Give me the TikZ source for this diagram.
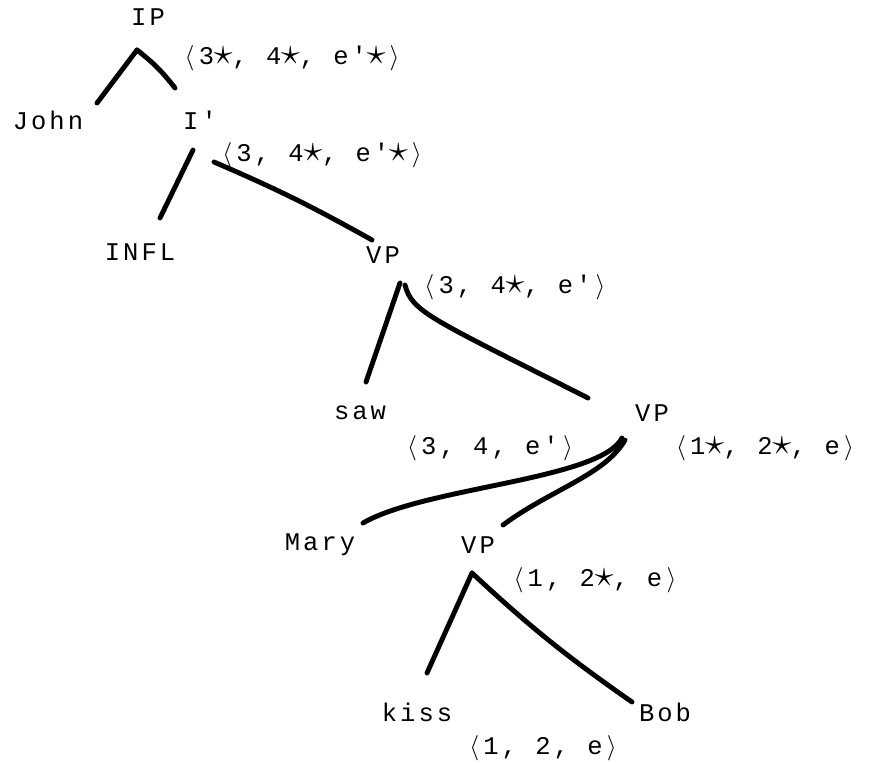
\documentclass[tikz,border=0pt]{standalone}
\usepackage{fontspec}
\setmonofont{Liberation Mono}[LetterSpace=12]
\newcommand{\lan}{\makebox[0.72em]{$\langle$}}
\newcommand{\ran}{\makebox[0.72em]{$\rangle$}}
\newcommand{\st}{\makebox[0.72em]{\scalebox{1.5}{$\star$}}}
\begin{document}
\begin{tikzpicture}[x=0.02cm,y=-0.02cm,
  every node/.style={font=\ttfamily\fontsize{14.5}{16}\selectfont, inner sep=0pt},
  edge/.style={line width=2.8pt, line cap=round}]
\useasboundingbox (0,0) rectangle (892,762);
% nodes
\node (IP)   at (148,17)  {IP};
\node (John) at (48,120)  {John};
\node (Ib)   at (200,120) {I'};
\node (INFL) at (140,252) {INFL};
\node (VPa)  at (383,255) {VP};
\node (saw)  at (360,413) {saw};
\node (VPb)  at (652,413) {VP};
\node (Mary) at (320,545) {Mary};
\node (VPc)  at (478,545) {VP};
\node (kiss) at (417,712) {kiss};
\node (Bob)  at (665,712) {Bob};
% feature labels
\node (fIP)  at (292,58)  {\lan3\st, 4\st, e'\st\ran};
\node (fIb)  at (322,155) {\lan3, 4\st, e'\st\ran};
\node (fVPa) at (515,287) {\lan3, 4\st, e'\ran};
\node (fsaw) at (490,448) {\lan3, 4, e'\ran};
\node (fVPb) at (765,448) {\lan1\st, 2\st, e\ran};
\node (fVPc) at (595,580) {\lan1, 2\st, e\ran};
\node (fkiss) at (543,748) {\lan1, 2, e\ran};
% connectors
\draw[edge] ([shift={(-11,33)}]IP.center) -- ([shift={(49,-17)}]John.center);
\draw[edge] ([shift={(-11,33)}]IP.center) to[bend left=7] ([shift={(-25,-32)}]Ib.center);
\draw[edge] ([shift={(-7,30)}]Ib.center) -- ([shift={(20,-34)}]INFL.center);
\draw[edge] ([shift={(14,42)}]Ib.center) to[bend left=3] ([shift={(-11,-15)}]VPa.center);
\draw[edge] ([shift={(17,28)}]VPa.center) -- ([shift={(6,-31)}]saw.center);
\draw[edge] ([shift={(22,30)}]VPa.center) .. controls (412,312) and (430,318) .. ([shift={(-64,-15)}]VPb.center);
\draw[edge] ([shift={(-30,25)}]VPb.center) .. controls (600,480) and (425,487) .. ([shift={(43,-22)}]Mary.center);
\draw[edge] ([shift={(-27,27)}]VPb.center) .. controls (605,475) and (550,490) .. ([shift={(25,-20)}]VPc.center);
\draw[edge] ([shift={(-6,28)}]VPc.center) -- ([shift={(10,-39)}]kiss.center);
\draw[edge] ([shift={(-6,28)}]VPc.center) to[bend right=4] ([shift={(-33,-10)}]Bob.center);
\end{tikzpicture}
\end{document}
